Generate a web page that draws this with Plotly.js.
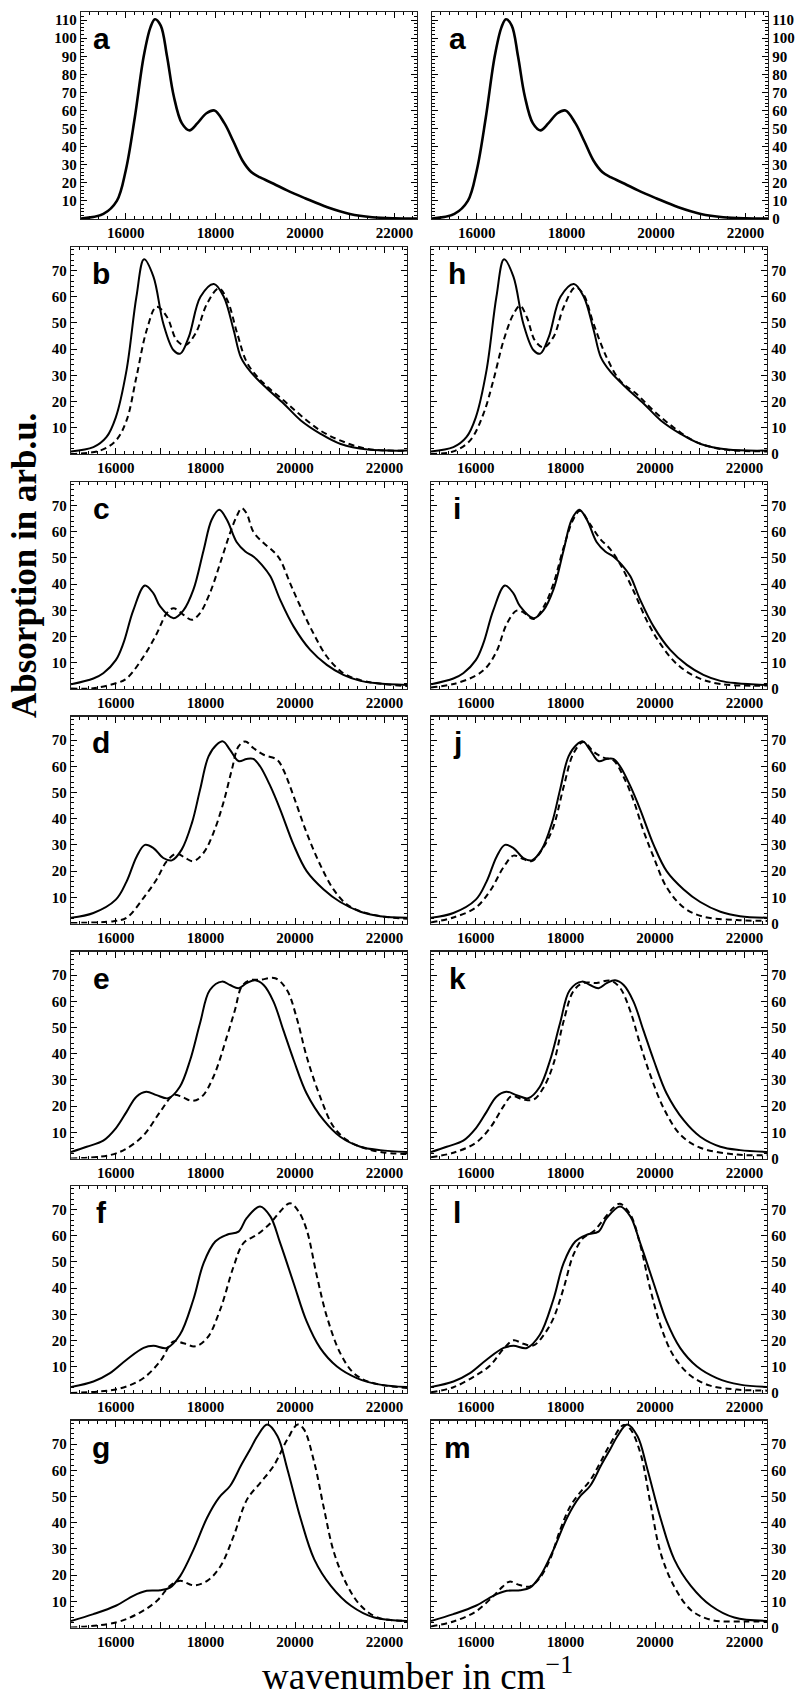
<!DOCTYPE html>
<html>
<head>
<meta charset="utf-8">
<script src="https://cdn.plot.ly/plotly-3.0.1.min.js"></script>
<style>html,body{margin:0;padding:0;background:#fff;}#chart{width:802px;height:1697px;}</style>
</head>
<body>
<div id="chart"></div>
<script>
// ---------- data (wavenumber in cm^-1, absorption in arb.u.) ----------
const xTickVals = [15000, 16000, 17000, 18000, 19000, 20000, 21000, 22000];
const xTickText = ['', '16000', '', '18000', '', '20000', '', '22000'];
const yTicksA = [10, 20, 30, 40, 50, 60, 70, 80, 90, 100, 110];
const yTicksA0 = [0, 10, 20, 30, 40, 50, 60, 70, 80, 90, 100, 110];
const yTicks = [10, 20, 30, 40, 50, 60, 70];
const yTicks0 = [0, 10, 20, 30, 40, 50, 60, 70];

// panel a (both columns)
const aX = [15000,15500,15800,16000,16200,16400,16550,16650,16780,16920,17070,17250,17420,17600,17800,17980,18200,18400,18600,18800,19000,19300,19600,20000,20500,21000,21500,22000,22500];
const aY = [0.3,2.8,10,27,56,90,106,110.5,107,90,68,53,49,53,58.5,60,53,43,32.5,26,23,19.5,15.8,11.5,6.5,2.8,1,0.4,0.3];

// row b/h: solid shared
const sbX = [15000,15500,15790,16000,16240,16460,16630,16840,17060,17290,17440,17630,17890,18190,18410,18630,18790,19010,19380,19750,20130,20570,21020,21620,22500];
const sbY = [1,2.6,6.4,14,32,60,74.3,67.7,49.8,39.6,38.3,44.7,60,64.9,60,47.3,37,31.3,24.9,19.2,12.8,7.7,3.8,1.7,1.3];
const dbX = [15000,15650,16000,16240,16460,16690,16910,17140,17360,17550,17780,18040,18300,18490,18710,18940,19310,19750,20130,20570,21020,21620,22500];
const dbY = [0,1.3,5.1,12.8,29.4,47.3,56.2,52.4,43.4,41.5,46,57.5,63.2,58.7,46,34.5,26.8,20.4,14.7,8.9,5.1,1.9,1.3];
const dhX = [15000,15500,15870,16170,16390,16620,16840,16990,17140,17320,17510,17730,17960,18220,18400,18630,18920,19220,19590,19970,20410,20860,21460,22500];
const dhY = [0,1,5.1,15.3,28,43.3,53.4,56.6,52.2,43.3,40.7,44.5,56,63.6,61,49.6,36.9,28,22.9,16.5,10.2,5.1,1.9,1];

// row c/i
const scX = [15000,15500,15720,16000,16170,16390,16650,16840,16990,17290,17510,17730,17960,18140,18310,18480,18700,18890,19070,19260,19450,19670,19970,20340,20710,21080,21460,21830,22500];
const scY = [1.8,4,6,11,17.5,30,39.5,36.5,31.5,27,30,37.8,53,64.6,68.4,64.6,56,52.5,50.6,47.4,43,34,23.8,14.9,9.2,5.4,3.1,2.2,1.5];
const dcX = [15000,15500,16000,16240,16620,16910,17140,17290,17510,17700,17880,18100,18330,18550,18700,18810,18920,19070,19300,19520,19670,19890,20120,20410,20710,21080,21460,21830,22500];
const dcY = [0.2,0.3,2.2,4,12.4,21,29,30.8,28.3,26.4,29,36.6,48,59.5,66,69,67,60,55.7,52.5,49.3,40.4,31.5,21.3,12.4,6,3.4,2.2,1.1];
const diX = [15000,15500,16000,16240,16470,16690,16910,17060,17290,17510,17730,17960,18180,18330,18550,18780,19000,19220,19520,19820,20120,20490,20930,21460,22500];
const diY = [0.6,1.9,5.1,8.3,14.6,24.8,29.9,29.3,26.7,31.2,40,54,64.9,68,62.9,57.2,53.4,47.7,37.5,26,17.2,9.5,4.5,1.9,1.3];

// row d/j
const sdX = [15000,15500,16000,16240,16470,16650,16840,17060,17250,17470,17700,17880,18070,18250,18390,18550,18740,18920,19070,19220,19450,19670,19970,20260,20640,21010,21460,21900,22500];
const sdY = [2.2,4,9.1,16,25.7,30,28.8,25,24.1,28.2,38.4,51,63.8,68.2,69.5,66.3,62,62.8,62.8,60,52.4,43.5,30,20,13,8.2,4.5,2.8,2.2];
const ddX = [15000,15950,16240,16620,16910,17140,17360,17550,17730,17960,18180,18400,18590,18740,18890,19070,19300,19600,19740,19970,20260,20560,20860,21160,21460,21900,22500];
const ddY = [0.2,0.9,2.2,9.8,16.8,23.8,26.7,25,23.8,27,34.6,46,58.7,67.6,69.5,67,64.4,62.5,58.7,48.5,34.6,22.5,13,7.2,4.7,2.8,1.8];
const djX = [15000,15500,16000,16320,16620,16840,17060,17250,17510,17730,17960,18180,18400,18630,18850,19070,19300,19520,19740,19970,20260,20640,21080,21830,22500];
const djY = [0.4,2.3,6.1,12.5,21.5,25.9,24.6,23.8,29.1,36.8,52.1,64.9,69.3,65.5,63.3,62.3,55.9,47,35.5,25.3,13.8,6.1,2.6,1.3,1];

// row e/k
const seX = [15000,15350,15720,16000,16240,16460,16680,16910,17170,17430,17660,17880,18100,18370,18550,18740,18920,19110,19300,19520,19740,19970,20260,20640,21010,21460,21900,22500];
const seY = [2.5,4.5,6.8,11.5,17.8,23.6,25.5,24.2,23,27.4,37.6,51.6,64.3,67.5,66.2,65,66.9,68,66.2,59.9,49,37.6,24.8,14.6,8.3,4.5,3.2,2.5];
const deX = [15000,15870,16240,16620,16990,17290,17470,17700,17920,18180,18480,18660,18810,18990,19220,19560,19820,20050,20260,20560,20860,21160,21460,21900,22500];
const deY = [0,1.3,3.8,8.9,17.8,24.2,23.6,22,23.6,31.2,46.5,56.7,65.6,68,68.2,68.8,64.3,52.9,38.9,23.6,12.1,7,4.5,2.5,1.7];
const dkX = [15000,15500,16000,16320,16620,16800,17060,17290,17510,17730,17960,18180,18400,18700,19000,19220,19450,19670,19890,20190,20560,21010,21830,22500];
const dkY = [0.5,2.2,6,11.7,20,23.8,22.5,22.5,27,35.9,52.4,63.9,67,67,67.9,65.1,56.2,43.5,32.1,19.3,9.2,4.1,1.5,1.3];

// row f/l
const sfX = [15000,15500,15870,16240,16620,16840,17140,17430,17730,17960,18220,18480,18740,18920,19220,19450,19670,19970,20260,20560,20930,21380,21900,22500];
const sfY = [2.3,4.4,7.6,12.7,17.2,18,17.2,22.2,35.6,49.6,57.8,60.4,61.6,66.7,71.2,67.4,57.2,41.9,27.3,17.2,10.2,5.7,3.2,2.3];
const dfX = [15000,15870,16240,16620,16990,17290,17510,17770,18040,18330,18630,18850,19150,19450,19670,19890,20080,20260,20490,20710,21010,21310,21680,22500];
const dfY = [0,1,2.5,5.7,12.1,19.7,19,17.8,21,31.8,48.3,57.2,60.4,64.8,69.3,72.4,69.3,62.3,44.5,29.2,15.2,7.6,4.1,1.9];
const dlX = [15000,15500,16000,16320,16620,16840,17060,17290,17510,17730,17960,18180,18400,18630,18850,19070,19220,19450,19670,19890,20120,20410,20790,21230,21830,22500];
const dlY = [0.3,2.2,6.7,10.5,16.9,20.1,18.8,18.2,22,28.4,40,52.8,59.2,61.7,66.2,70.7,72.2,68.1,56.6,40,25.9,14.3,6.7,2.8,1.3,0.9];

// row g/m
const sgX = [15000,15500,16000,16390,16690,16990,17210,17440,17740,18040,18300,18550,18800,19000,19160,19380,19610,19830,20130,20430,20800,21250,21770,22500];
const sgY = [2.5,5.1,8.3,12.1,14,14.2,15.2,19.7,29.9,42,49.5,54,62,68,73,77.5,73,60.4,41.3,26,15.9,8.3,3.8,2.5];
const dgX = [15000,16000,16540,16920,17210,17440,17740,18040,18340,18630,18930,19230,19520,19830,20060,20200,20430,20650,20870,21170,21470,21840,22500];
const dgY = [0,1.9,5.7,10.2,15.9,17.8,16.1,17.8,23.5,34.9,48.9,55.3,61.6,71.8,77.5,75.6,63,45.1,28.6,15.9,8.3,3.8,2.5];
const dmX = [15000,15500,16000,16380,16600,16750,16980,17200,17420,17650,17880,18100,18330,18550,18780,19000,19300,19450,19680,19900,20130,20430,20800,21250,22000,22500];
const dmY = [0.4,2.3,6.1,11.8,15.6,17.5,16.2,15.6,18.7,25.7,37.1,46,51.6,56.1,63,70,77.3,75.7,66.2,47.2,28.2,15.6,6.7,2.9,2.3,2.3];

const letters = ['a','b','c','d','e','f','g','a','h','i','j','k','l','m'];

// ---------- layout ----------
const W = 802, H = 1697;
const rowTop = [12, 247, 482, 716.5, 951.5, 1186, 1420.5];
const panelH = 207;
const SERIF = 'Liberation Serif';

const panels = [
  {row:0,col:0,s:[aX,aY],d:null},
  {row:1,col:0,s:[sbX,sbY],d:[dbX,dbY]},
  {row:2,col:0,s:[scX,scY],d:[dcX,dcY]},
  {row:3,col:0,s:[sdX,sdY],d:[ddX,ddY]},
  {row:4,col:0,s:[seX,seY],d:[deX,deY]},
  {row:5,col:0,s:[sfX,sfY],d:[dfX,dfY]},
  {row:6,col:0,s:[sgX,sgY],d:[dgX,dgY]},
  {row:0,col:1,s:[aX,aY],d:null},
  {row:1,col:1,s:[sbX,sbY],d:[dhX,dhY]},
  {row:2,col:1,s:[scX,scY],d:[diX,diY]},
  {row:3,col:1,s:[sdX,sdY],d:[djX,djY]},
  {row:4,col:1,s:[seX,seY],d:[dkX,dkY]},
  {row:5,col:1,s:[sfX,sfY],d:[dlX,dlY]},
  {row:6,col:1,s:[sgX,sgY],d:[dmX,dmY]}
];

const traces = [];
const layout = {
  width: W, height: H,
  margin: {l:0, r:0, t:0, b:0},
  paper_bgcolor: '#fff', plot_bgcolor: '#fff',
  font: {family: SERIF, color: '#000'},
  showlegend: false,
  annotations: []
};
const tickFont = {family: SERIF, size: 15, color: '#000', weight: 'bold'};
const bold = v => v === '' ? '' : '<b>' + v + '</b>';

panels.forEach((p, i) => {
  const k = i + 1;
  const suf = k === 1 ? '' : String(k);
  let x0, x1;
  if (p.col === 0) { [x0, x1] = p.row === 0 ? [81, 417] : [71, 407]; }
  else { [x0, x1] = p.row === 0 ? [432, 768] : [431, 767]; }
  const top = rowTop[p.row], bot = top + panelH;
  const isA = p.row === 0;

  traces.push({x: p.s[0], y: p.s[1], xaxis: 'x' + suf, yaxis: 'y' + suf, type: 'scatter', mode: 'lines',
    line: {color: '#000', width: isA ? 2.6 : 2, shape: 'spline', smoothing: 1}, hoverinfo: 'skip'});
  if (p.d) {
    traces.push({x: p.d[0], y: p.d[1], xaxis: 'x' + suf, yaxis: 'y' + suf, type: 'scatter', mode: 'lines',
      line: {color: '#000', width: 2, dash: '6px,4px', shape: 'spline', smoothing: 1}, hoverinfo: 'skip'});
  }

  const yv = isA ? (p.col === 0 ? yTicksA : yTicksA0) : (p.col === 0 ? yTicks : yTicks0);
  layout['xaxis' + suf] = {
    domain: [x0 / W, x1 / W], anchor: 'y' + suf, range: [15000, 22500],
    tickmode: 'array', tickvals: xTickVals, ticktext: xTickText.map(bold),
    ticks: 'inside', ticklen: 6, tickwidth: 1, tickcolor: '#000',
    mirror: 'allticks', showline: true, linecolor: '#222', linewidth: 1.3,
    showgrid: false, zeroline: false, tickfont: tickFont, fixedrange: true,
    minor: {tickmode: 'linear', tick0: 15000, dtick: 200, ticks: 'inside', ticklen: 3, tickwidth: 1, tickcolor: '#000', showgrid: false}
  };
  layout['yaxis' + suf] = {
    domain: [1 - bot / H, 1 - top / H], anchor: 'x' + suf,
    range: isA ? [0, 114.5] : [0, 79],
    side: p.col === 0 ? 'left' : 'right',
    tickmode: 'array', tickvals: yv, ticktext: yv.map(v => bold(String(v))),
    ticks: 'inside', ticklen: 6, tickwidth: 1, tickcolor: '#000',
    mirror: 'allticks', showline: true, linecolor: '#222', linewidth: 1.3,
    showgrid: false, zeroline: false, tickfont: tickFont, fixedrange: true,
    minor: {tickmode: 'linear', tick0: 0, dtick: 2, ticks: 'inside', ticklen: 3, tickwidth: 1, tickcolor: '#000', showgrid: false}
  };

  layout.annotations.push({
    text: '<b>' + letters[i] + '</b>', xref: 'paper', yref: 'paper',
    x: (p.col === 0 ? 101 : 457) / W, y: 1 - (top + 26.5) / H,
    xanchor: 'center', yanchor: 'middle', showarrow: false,
    font: {family: 'Liberation Sans', size: 30, color: '#000'}
  });
});

layout.annotations.push({
  text: '<b>Absorption in arb.u.</b>', xref: 'paper', yref: 'paper',
  x: 24 / W, y: 1 - 566 / H, xanchor: 'center', yanchor: 'middle', textangle: -90, showarrow: false,
  font: {family: SERIF, size: 35, color: '#000'}
});
layout.annotations.push({
  text: 'wavenumber in cm<sup>−1</sup>', xref: 'paper', yref: 'paper',
  x: 418 / W, y: 1 - 1673 / H, xanchor: 'center', yanchor: 'middle', showarrow: false,
  font: {family: SERIF, size: 37, color: '#000'}
});

Plotly.newPlot('chart', traces, layout, {staticPlot: true, displayModeBar: false});
</script>
</body>
</html>
